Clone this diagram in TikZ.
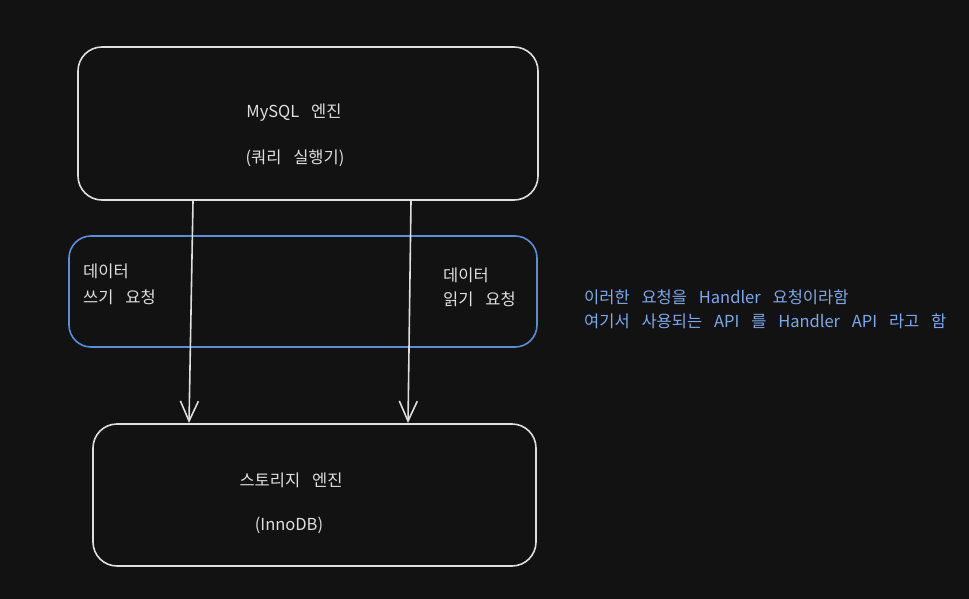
\documentclass[tikz,border=0pt]{standalone}
\usepackage{fontspec}
\setmainfont{Noto Sans CJK KR}[WordSpace=3.2]
\usetikzlibrary{arrows.meta}
\definecolor{bg}{HTML}{121212}
\definecolor{strokec}{HTML}{DEDEDE}
\definecolor{bluebox}{HTML}{5A8ED8}
\definecolor{bluetext}{HTML}{7EA8E8}
\tikzset{
  box/.style={draw=strokec, line width=1.6pt, rounded corners=24pt},
  bbox/.style={draw=bluebox, line width=1.6pt, rounded corners=22pt},
  lbl/.style={text=strokec, font=\fontsize{16.5}{18}\selectfont, inner sep=0pt},
  blbl/.style={text=bluetext, font=\fontsize{16.5}{24}\selectfont, inner sep=0pt, align=left},
  flow/.style={draw=strokec, line width=1.6pt, -{Straight Barb[length=20pt,width=18pt,line width=1.6pt]}}
}
\begin{document}
\begin{tikzpicture}[x=1pt,y=-1pt]
\fill[bg] (0,0) rectangle (969,599);
\useasboundingbox (0,0) rectangle (969,599);
% boxes
\draw[box] (78,47) rectangle (538,200);
\draw[bbox] (69,236) rectangle (537,347);
\draw[box] (93,424) rectangle (536,566);
% texts
\node[lbl] (t1) at (294,113) {MySQL 엔진};
\node[lbl] (t2) at (295,158) {(쿼리 실행기)};
\node[lbl, anchor=west] (w1) at (83,271) {데이터};
\node[lbl, anchor=west] (w2) at (83,297) {쓰기 요청};
\node[lbl, anchor=west] (r1) at (443,275) {데이터};
\node[lbl, anchor=west] (r2) at (443,299) {읽기 요청};
\node[lbl] (s1) at (291,480) {스토리지 엔진};
\node[lbl] (s2) at (289,525) {(InnoDB)};
\node[blbl, anchor=west] (n1) at (584,297) {이러한 요청을 Handler 요청이라함};
\node[blbl, anchor=west] (n2) at (584,321) {여기서 사용되는 API 를 Handler API 라고 함};
% arrows
\coordinate (a1) at (193,201);
\coordinate (b1) at (189,423);
\coordinate (a2) at (411,201);
\coordinate (b2) at (408,423);
\draw[flow] (a1) -- (b1);
\draw[flow] (a2) -- (b2);
\end{tikzpicture}
\end{document}
